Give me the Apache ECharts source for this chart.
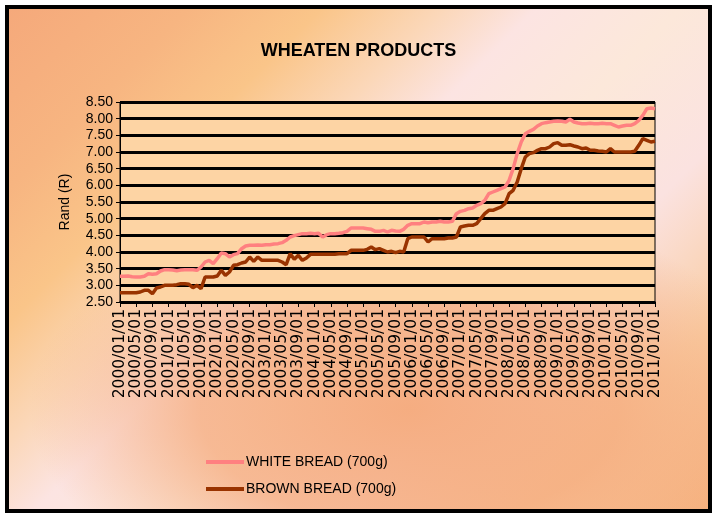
<!DOCTYPE html>
<html>
<head>
<meta charset="utf-8">
<title>Wheaten products</title>
<script src="https://cdn.jsdelivr.net/npm/echarts@6/dist/echarts.min.js"></script>
<style>
    html, body { margin: 0; padding: 0; background: #fff; }
    #frame {
        position: absolute; left: 5px; top: 5px;
        width: 699px; height: 500px;
        border: 4px solid #000;
        background:
            radial-gradient(ellipse 380px 210px at 400px 400px, rgba(245,170,124,0.95) 0%, rgba(245,170,124,0.75) 55%, rgba(245,170,124,0) 100%),
            linear-gradient(135deg, #F5A97B 0%, #F7B581 15%, #FAC589 26%, #FBD7B8 36%, #FCE4E2 44%, #FCE8DA 56%, #FBE2E0 70%, #F9CDA4 85%, #F6B27F 100%);
    }
    #chart { width: 699px; height: 500px; }
</style>
</head>
<body>
<div id="frame"><div id="chart"></div></div>
<script>
    // monthly prices, 2000/01 .. 2011/01
    var startYear = 2000;
    var monthCount = 133;

    var whiteBread = [
        3.27, 3.27, 3.28, 3.26, 3.25, 3.25, 3.27, 3.35, 3.33, 3.35,
        3.43, 3.47, 3.47, 3.46, 3.44, 3.46, 3.47, 3.47, 3.47, 3.45,
        3.55, 3.70, 3.75, 3.65, 3.80, 3.97, 3.95, 3.85, 3.92, 3.95,
        4.10, 4.18, 4.20, 4.20, 4.21, 4.20, 4.22, 4.22, 4.24, 4.25,
        4.28, 4.35, 4.45, 4.49, 4.52, 4.55, 4.55, 4.56, 4.55, 4.56,
        4.45, 4.52, 4.55, 4.55, 4.56, 4.58, 4.62, 4.72, 4.72, 4.72,
        4.72, 4.70, 4.68, 4.62, 4.62, 4.65, 4.60, 4.65, 4.63, 4.62,
        4.68, 4.80, 4.85, 4.85, 4.85, 4.90, 4.88, 4.90, 4.90, 4.92,
        4.90, 4.90, 4.92, 5.15, 5.22, 5.25, 5.30, 5.32, 5.40, 5.45,
        5.55, 5.75, 5.80, 5.85, 5.90, 5.95, 6.15, 6.50, 6.95, 7.30,
        7.55, 7.62, 7.68, 7.78, 7.85, 7.88, 7.90, 7.92, 7.93, 7.92,
        7.90, 7.98, 7.90, 7.87, 7.85, 7.85, 7.86, 7.85, 7.85, 7.86,
        7.85, 7.85, 7.80, 7.75, 7.78, 7.80, 7.80, 7.85, 7.95, 8.10,
        8.30, 8.32, 8.30
    ];

    var brownBread = [
        2.78, 2.78, 2.78, 2.78, 2.78, 2.80, 2.85, 2.85, 2.75, 2.92,
        2.95, 3.00, 3.00, 3.00, 3.02, 3.05, 3.05, 3.03, 2.93, 3.00,
        2.90, 3.25, 3.25, 3.25, 3.28, 3.45, 3.30, 3.40, 3.60, 3.62,
        3.67, 3.70, 3.85, 3.72, 3.85, 3.75, 3.75, 3.75, 3.75, 3.75,
        3.70, 3.62, 3.95, 3.78, 3.90, 3.75, 3.82, 3.93, 3.93, 3.93,
        3.93, 3.93, 3.93, 3.93, 3.95, 3.95, 3.95, 4.05, 4.05, 4.05,
        4.05, 4.08, 4.15, 4.07, 4.10, 4.05, 4.00, 4.02, 3.98, 4.02,
        4.00, 4.40, 4.45, 4.45, 4.45, 4.45, 4.30, 4.40, 4.40, 4.40,
        4.40, 4.42, 4.42, 4.45, 4.75, 4.78, 4.80, 4.80, 4.85, 5.00,
        5.15, 5.25, 5.25, 5.30, 5.35, 5.45, 5.75, 5.85, 6.10, 6.50,
        6.85, 6.95, 6.98, 7.05, 7.10, 7.10, 7.15, 7.25, 7.28, 7.20,
        7.20, 7.22, 7.18, 7.15, 7.10, 7.12, 7.05, 7.05, 7.03, 7.02,
        7.00, 7.10, 7.00, 7.00, 7.00, 7.00, 7.00, 7.02, 7.20, 7.40,
        7.35, 7.30, 7.32
    ];

    var seriesNames = ['WHITE BREAD (700g)', 'BROWN BREAD (700g)'];
    var seriesColors = ['#FF8080', '#993300'];

    var dates = [];
    for (var i = 0; i < monthCount; i++) {
        var y = startYear + Math.floor(i / 12);
        var m = i % 12 + 1;
        dates.push(y + '/' + (m < 10 ? '0' + m : m) + '/01');
    }

    var chart = echarts.init(document.getElementById('chart'), null, { renderer: 'canvas' });

    var option = {
        animation: false,
        title: {
            text: 'WHEATEN PRODUCTS',
            left: 'center',
            top: 28,
            textStyle: {
                fontFamily: 'Liberation Sans',
                fontWeight: 'bold',
                fontSize: 18,
                color: '#000'
            }
        },
        legend: {
            orient: 'vertical',
            left: 192,
            top: 441,
            itemGap: 13,
            itemWidth: 38,
            itemHeight: 4,
            icon: 'rect',
            data: seriesNames,
            textStyle: {
                fontFamily: 'Liberation Sans',
                fontSize: 14,
                color: '#000',
                padding: [0, 0, 0, -3]
            }
        },
        grid: {
            left: 111,
            right: 53,
            top: 93,
            bottom: 207,
            show: true,
            backgroundColor: '#FDD4A4',
            borderColor: '#000',
            borderWidth: 1
        },
        xAxis: {
            type: 'category',
            boundaryGap: false,
            data: dates,
            axisLine: { lineStyle: { color: '#000', width: 1.5 } },
            axisTick: { interval: 3, length: 5, lineStyle: { color: '#000' } },
            axisLabel: {
                interval: 3,
                rotate: 90,
                margin: 7,
                fontFamily: 'DejaVu Sans',
                fontSize: 15.5,
                color: '#000'
            },
            splitLine: { show: false }
        },
        yAxis: {
            type: 'value',
            min: 2.5,
            max: 8.5,
            interval: 0.5,
            name: 'Rand (R)',
            nameLocation: 'middle',
            nameGap: 48,
            nameTextStyle: {
                fontFamily: 'Liberation Sans',
                fontSize: 14,
                color: '#000'
            },
            axisLine: { show: true, lineStyle: { color: '#000', width: 1 } },
            axisTick: { show: true, length: 4, lineStyle: { color: '#000' } },
            axisLabel: {
                margin: 7,
                fontFamily: 'Liberation Sans',
                fontSize: 14,
                color: '#000',
                formatter: function (v) { return v.toFixed(2); }
            },
            splitLine: { lineStyle: { color: '#000', width: 3 } }
        },
        series: [
            {
                name: seriesNames[0],
                type: 'line',
                symbol: 'none',
                data: whiteBread,
                itemStyle: { color: seriesColors[0] },
                lineStyle: { color: seriesColors[0], width: 3.5 }
            },
            {
                name: seriesNames[1],
                type: 'line',
                symbol: 'none',
                data: brownBread,
                itemStyle: { color: seriesColors[1] },
                lineStyle: { color: seriesColors[1], width: 3.5 }
            }
        ]
    };

    chart.setOption(option);
</script>
</body>
</html>
